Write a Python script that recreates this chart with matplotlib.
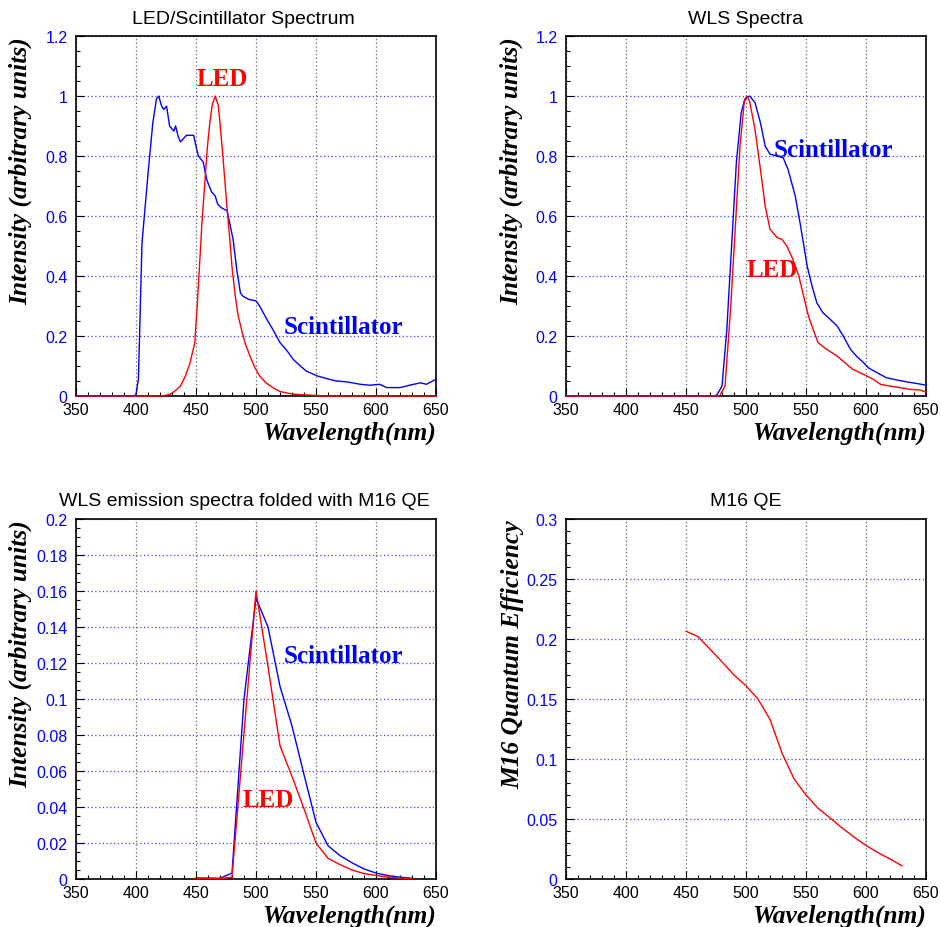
import matplotlib
matplotlib.use("Agg")
import matplotlib.pyplot as plt
from matplotlib.ticker import MultipleLocator, FuncFormatter

# ---------------- data ----------------
# Panel 1: LED / Scintillator spectrum
p1_scint_wl = [350, 398, 400, 402, 405, 410, 414, 417, 419, 421, 423, 425.5, 428, 431.5, 433,
               435, 437, 442, 448, 450, 452, 456, 459, 463, 466, 468, 471, 476, 478, 481,
               484, 487, 489, 494, 500, 503, 509, 514, 520, 526, 531, 537, 542, 551, 559,
               567, 576, 587, 595, 603, 609, 620, 628, 637, 642, 650]
p1_scint_val = [0, 0, 0.005, 0.056, 0.51, 0.74, 0.91, 0.99, 1.0, 0.97, 0.955, 0.966, 0.90, 0.883, 0.90,
                0.867, 0.847, 0.869, 0.869, 0.833, 0.80, 0.78, 0.72, 0.68, 0.667, 0.64, 0.628, 0.617, 0.578, 0.52,
                0.42, 0.344, 0.333, 0.322, 0.317, 0.30, 0.256, 0.222, 0.178, 0.15, 0.122, 0.10, 0.083, 0.067, 0.058,
                0.05, 0.047, 0.039, 0.036, 0.039, 0.028, 0.028, 0.036, 0.044, 0.039, 0.056]
p1_led_wl = [350, 422, 428, 432, 437, 441, 445, 449, 451, 453, 455, 457.5, 459.5, 461.5, 463.5, 466,
             468.5, 470, 472, 474, 476, 478, 480, 482.5, 485, 488, 491, 495, 499, 503, 508, 514,
             520, 531, 559, 650]
p1_led_val = [0, 0, 0.005, 0.015, 0.033, 0.065, 0.11, 0.178, 0.30, 0.44, 0.58, 0.72, 0.83, 0.91, 0.97, 1.0,
              0.97, 0.91, 0.82, 0.72, 0.62, 0.53, 0.43, 0.34, 0.27, 0.22, 0.175, 0.133, 0.095, 0.067, 0.045, 0.028,
              0.015, 0.006, 0, 0]

# Panel 2: WLS spectra
p2_scint_wl = [350, 474, 476, 480, 484, 488, 492, 496, 499, 503, 507.5, 512, 516, 520, 526,
               531, 535, 541, 545, 551, 555, 559, 564, 570, 576, 581, 587, 592, 598, 602,
               609, 617, 626, 634, 642, 650]
p2_scint_val = [0, 0, 0.005, 0.033, 0.22, 0.50, 0.78, 0.944, 0.99, 1.0, 0.978, 0.911, 0.833, 0.806, 0.80,
                0.794, 0.756, 0.667, 0.578, 0.433, 0.367, 0.311, 0.278, 0.256, 0.233, 0.20, 0.156, 0.133, 0.111, 0.094,
                0.078, 0.061, 0.053, 0.047, 0.042, 0.036]
p2_led_wl = [350, 478, 482.5, 487, 491, 495, 498.5, 500.5, 503, 507.5, 512, 516, 520, 526, 530,
             534, 539, 544, 548, 552, 556, 560, 567, 576, 582.5, 589, 598, 606, 612, 620,
             628, 637, 645, 650]
p2_led_val = [0, 0, 0.033, 0.28, 0.556, 0.833, 0.978, 1.0, 0.983, 0.889, 0.756, 0.633, 0.556, 0.528, 0.522,
              0.50, 0.456, 0.40, 0.333, 0.267, 0.222, 0.178, 0.156, 0.133, 0.111, 0.089, 0.072, 0.056, 0.039, 0.033,
              0.028, 0.022, 0.02, 0.013]

# Panel 3: WLS emission folded with M16 QE (10 nm steps)
p3_wl = [450, 460, 470, 480, 490, 500, 510, 520, 530, 540, 550, 560, 570, 580, 590, 600, 610, 620, 630]
p3_scint_val = [0.0006, 0.0005, 0.0004, 0.0033, 0.100, 0.156, 0.140, 0.107, 0.085, 0.058, 0.0315, 0.0185,
                0.013, 0.009, 0.0056, 0.0033, 0.0019, 0.001, 0.0004]
p3_led_val = [0.0003, 0.0003, 0.0002, 0.001, 0.081, 0.160, 0.118, 0.074, 0.057, 0.039, 0.020, 0.0115,
              0.008, 0.005, 0.003, 0.002, 0.001, 0.0005, 0.0003]

# Panel 4: M16 quantum efficiency
p4_wl = [450, 460, 470, 480, 490, 500, 510, 520, 530, 540, 550, 560, 570, 580, 590, 600, 610, 620, 630]
p4_qe = [0.2065, 0.202, 0.1915, 0.181, 0.170, 0.161, 0.150, 0.133, 0.105, 0.0835, 0.070, 0.059, 0.051,
         0.0426, 0.035, 0.028, 0.022, 0.0167, 0.011]

titles = ["LED/Scintillator Spectrum", "WLS Spectra",
          "WLS emission spectra folded with M16 QE", "M16 QE"]

# ---------------- figure ----------------
W, H = 941, 928
fig = plt.figure(figsize=(W / 100, H / 100), dpi=100)

SANS = ["Liberation Sans", "DejaVu Sans"]
SERIF = ["Liberation Serif", "DejaVu Serif"]
BLUE = "#0000ff"
RED = "#ff0000"
AXFONT = 18.4
LABFONT = 18

def make_ax(left_px, top_px, ylim, ymajor, yminor):
    ax = fig.add_axes([left_px / W, 1 - (top_px + 360) / H, 360 / W, 360 / H])
    ax.set_xlim(350, 650)
    ax.set_ylim(*ylim)
    ax.xaxis.set_major_locator(MultipleLocator(50))
    ax.xaxis.set_minor_locator(MultipleLocator(10))
    ax.yaxis.set_major_locator(MultipleLocator(ymajor))
    ax.yaxis.set_minor_locator(MultipleLocator(yminor))
    ax.yaxis.set_major_formatter(FuncFormatter(lambda v, p: "%g" % round(v, 4)))
    ax.tick_params(which="both", direction="in", top=False, right=False, color="black")
    ax.tick_params(which="major", length=6, width=0.8)
    ax.tick_params(which="minor", length=3, width=0.8)
    ax.tick_params(axis="x", labelsize=11.5, pad=4, labelcolor="black")
    ax.tick_params(axis="y", labelsize=11.5, pad=6, labelcolor=BLUE)
    for lab in ax.get_xticklabels() + ax.get_yticklabels():
        lab.set_family(SANS)
    ax.xaxis.grid(True, which="major", color="#666666", linestyle=(0, (1, 2)), linewidth=0.9)
    ax.yaxis.grid(True, which="major", color="#4444ff", linestyle=(0, (1, 2)), linewidth=0.9)
    ax.set_axisbelow(True)
    for s in ax.spines.values():
        s.set_color("black")
        s.set_linewidth(1.2)
        s.set_zorder(2.5)
    ax.text(1.0, -0.102, "Wavelength(nm)", transform=ax.transAxes, ha="right", va="center",
            family=SERIF, fontsize=AXFONT, fontweight="bold", fontstyle="italic")
    return ax

def title(ax, t, xc_px):
    pos = ax.get_position()
    fig.text(xc_px / W, pos.y1 + 0.05 * pos.height, t,
             ha="center", va="center", family=SANS, fontsize=14)

def ylab(ax, t, x):
    ax.text(x, 1.0, t, transform=ax.transAxes, ha="center", va="top", rotation=90,
            family=SERIF, fontsize=AXFONT, fontweight="bold", fontstyle="italic")

def label(ax, x, y, t, c):
    ax.text(x, y, t, ha="center", va="center", color=c, family=SERIF,
            fontsize=LABFONT, fontweight="bold")

lw = 1.0

# Panel 1
ax1 = make_ax(76, 37, (0, 1.2), 0.2, 0.05)
ax1.plot(p1_scint_wl, p1_scint_val, color=BLUE, lw=lw, clip_on=False, zorder=3)
ax1.plot(p1_led_wl, p1_led_val, color=RED, lw=lw, clip_on=False, zorder=3)
title(ax1, titles[0], 243)
ylab(ax1, "Intensity (arbitrary units)", -0.155)
label(ax1, 472, 1.06, "LED", RED)
label(ax1, 573, 0.232, "Scintillator", BLUE)

# Panel 2
ax2 = make_ax(566, 37, (0, 1.2), 0.2, 0.05)
ax2.plot(p2_scint_wl, p2_scint_val, color=BLUE, lw=lw, clip_on=False, zorder=3)
ax2.plot(p2_led_wl, p2_led_val, color=RED, lw=lw, clip_on=False, zorder=3)
title(ax2, titles[1], 746)
ylab(ax2, "Intensity (arbitrary units)", -0.152)
label(ax2, 573, 0.822, "Scintillator", BLUE)
label(ax2, 522, 0.422, "LED", RED)

# Panel 3
ax3 = make_ax(76, 520, (0, 0.2), 0.02, 0.005)
ax3.plot(p3_wl, p3_scint_val, color=BLUE, lw=lw, clip_on=False, zorder=3)
ax3.plot(p3_wl, p3_led_val, color=RED, lw=lw, clip_on=False, zorder=3)
title(ax3, titles[2], 244)
ylab(ax3, "Intensity (arbitrary units)", -0.155)
label(ax3, 573, 0.124, "Scintillator", BLUE)
label(ax3, 510, 0.044, "LED", RED)

# Panel 4
ax4 = make_ax(566, 520, (0, 0.3), 0.05, 0.01)
ax4.plot(p4_wl, p4_qe, color=RED, lw=lw, clip_on=False, zorder=3)
title(ax4, titles[3], 746)
ylab(ax4, "M16 Quantum Efficiency", -0.147)

fig.savefig("out.png", dpi=100)
